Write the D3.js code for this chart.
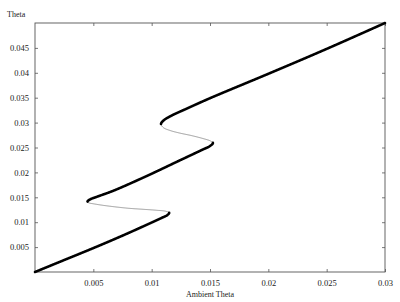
<!DOCTYPE html>
<html>
<head>
<meta charset="utf-8">
<script src="https://cdn.jsdelivr.net/npm/d3@7/dist/d3.min.js"></script>
<style>
  body { margin: 0; background: #fff; }
  text { font-family: "Liberation Serif", serif; fill: #222; }
</style>
</head>
<body>
<div id="chart"></div>
<script>
'use strict';

// curve pieces, [ambient theta, theta]; each piece ends where the next starts (fold points)
var lowerBranch = [
    [0, 0], [0.0025, 0.0024], [0.005, 0.0048], [0.0075, 0.0073],
    [0.0095, 0.0094], [0.0108, 0.0108], [0.01135, 0.01145], [0.0115, 0.0119]
];
var lowerUnstable = [
    [0.0115, 0.0119], [0.0112, 0.0122], [0.0104, 0.0124], [0.0092, 0.0126],
    [0.0080, 0.0128], [0.0068, 0.0131], [0.0058, 0.0134], [0.0050, 0.0137],
    [0.0046, 0.0139], [0.0045, 0.01415]
];
var middleBranch = [
    [0.0045, 0.01415], [0.0047, 0.01455], [0.0053, 0.0151], [0.0067, 0.0163],
    [0.0096, 0.0193], [0.0124, 0.0224], [0.0143, 0.0245], [0.0150, 0.0253], [0.01525, 0.0259]
];
var upperUnstable = [
    [0.01525, 0.0259], [0.01505, 0.0263], [0.0144, 0.0268], [0.0134, 0.0274],
    [0.0124, 0.0279], [0.0116, 0.0284], [0.0110, 0.0290], [0.0108, 0.0297]
];
var upperBranch = [
    [0.0108, 0.0297], [0.0110, 0.0304], [0.0117, 0.0314], [0.0130, 0.0328],
    [0.0150, 0.0349], [0.020, 0.0398], [0.025, 0.0448], [0.030, 0.050]
];

var pieces = [
    {pts: lowerBranch, stable: true},
    {pts: lowerUnstable, stable: false},
    {pts: middleBranch, stable: true},
    {pts: upperUnstable, stable: false},
    {pts: upperBranch, stable: true}
];

var xTicks = [0.005, 0.01, 0.015, 0.02, 0.025, 0.03];
var yTicks = [0.005, 0.01, 0.015, 0.02, 0.025, 0.03, 0.035, 0.04, 0.045];

var width = 400;
var height = 302;
var margin = {left: 35, right: 15, top: 23, bottom: 30};

var svg = d3.select("#chart").append("svg")
    .attr("width", width)
    .attr("height", height);

var x = d3.scaleLinear().domain([0, 0.03]).range([margin.left, width - margin.right]);
var y = d3.scaleLinear().domain([0, 0.05]).range([height - margin.bottom, margin.top]);

var fmt = d => String(+d.toFixed(3));
var axisColor = "#555";
var tickLen = 3;

// frame with inward ticks on every side
function styleAxis(g) {
    g.select(".domain").remove();
    g.selectAll(".tick line").attr("stroke", axisColor).attr("stroke-width", 0.8);
    g.selectAll(".tick text").attr("font-size", "8.5px").attr("fill", "#222")
        .style("font-family", '"Liberation Serif", serif');
}

svg.append("g")
    .attr("transform", `translate(0,${y(0)})`)
    .call(d3.axisBottom(x).tickValues(xTicks).tickFormat(fmt).tickSizeInner(-tickLen).tickSizeOuter(0).tickPadding(8))
    .call(styleAxis);

svg.append("g")
    .attr("transform", `translate(0,${y(0.05)})`)
    .call(d3.axisTop(x).tickValues(xTicks).tickFormat("").tickSizeInner(-tickLen).tickSizeOuter(0))
    .call(styleAxis);

svg.append("g")
    .attr("transform", `translate(${x(0)},0)`)
    .call(d3.axisLeft(y).tickValues(yTicks).tickFormat(fmt).tickSizeInner(-tickLen).tickSizeOuter(0).tickPadding(6))
    .call(styleAxis);

svg.append("g")
    .attr("transform", `translate(${x(0.03)},0)`)
    .call(d3.axisRight(y).tickValues(yTicks).tickFormat("").tickSizeInner(-tickLen).tickSizeOuter(0))
    .call(styleAxis);

svg.append("rect")
    .attr("x", x(0)).attr("y", y(0.05))
    .attr("width", x(0.03) - x(0)).attr("height", y(0) - y(0.05))
    .attr("fill", "none").attr("stroke", axisColor).attr("stroke-width", 0.9);

// one smooth curve through all pieces so the folds stay round
var allPts = [];
pieces.forEach(function(p, i) {
    allPts = allPts.concat(i == 0 ? p.pts : p.pts.slice(1));
});

var line = d3.line()
    .x(d => x(d[0]))
    .y(d => y(d[1]))
    .curve(d3.curveCatmullRom.alpha(0.5));

var guide = svg.append("path").datum(allPts)
    .attr("d", line)
    .attr("fill", "none")
    .attr("stroke", "none");

var node = guide.node();
var total = node.getTotalLength();
var samples = [];
for (var l = 0; l <= total; l += 0.4) {
    var pt = node.getPointAtLength(l);
    samples.push([pt.x, pt.y]);
}
var last = node.getPointAtLength(total);
samples.push([last.x, last.y]);

// find where each fold lands in the sampled curve
function nearest(px, py, from) {
    var best = from, bd = Infinity;
    for (var i = from; i < samples.length; i++) {
        var dx = samples[i][0] - px, dy = samples[i][1] - py;
        var dd = dx * dx + dy * dy;
        if (dd < bd) { bd = dd; best = i; }
        if (dd > 400 && bd < 1) break;
    }
    return best;
}

var start = 0;
pieces.forEach(function(p) {
    var end = p.pts[p.pts.length - 1];
    var stop = nearest(x(end[0]), y(end[1]), start);
    p.samples = samples.slice(start, stop + 1);
    start = stop;
});

var poly = d3.line();

pieces.filter(p => !p.stable).forEach(function(p) {
    svg.append("path").datum(p.samples)
        .attr("d", poly)
        .attr("fill", "none")
        .attr("stroke", "#777")
        .attr("stroke-width", 0.75);
});

pieces.filter(p => p.stable).forEach(function(p) {
    svg.append("path").datum(p.samples)
        .attr("d", poly)
        .attr("fill", "none")
        .attr("stroke", "#000")
        .attr("stroke-width", 2.6)
        .attr("stroke-linecap", "round")
        .attr("stroke-linejoin", "round");
});

svg.append("text")
    .attr("x", 7).attr("y", 17)
    .attr("font-size", "8px")
    .text("Theta");

svg.append("text")
    .attr("x", (x(0) + x(0.03)) / 2).attr("y", 297)
    .attr("text-anchor", "middle")
    .attr("font-size", "8px")
    .text("Ambient Theta");
</script>
</body>
</html>
